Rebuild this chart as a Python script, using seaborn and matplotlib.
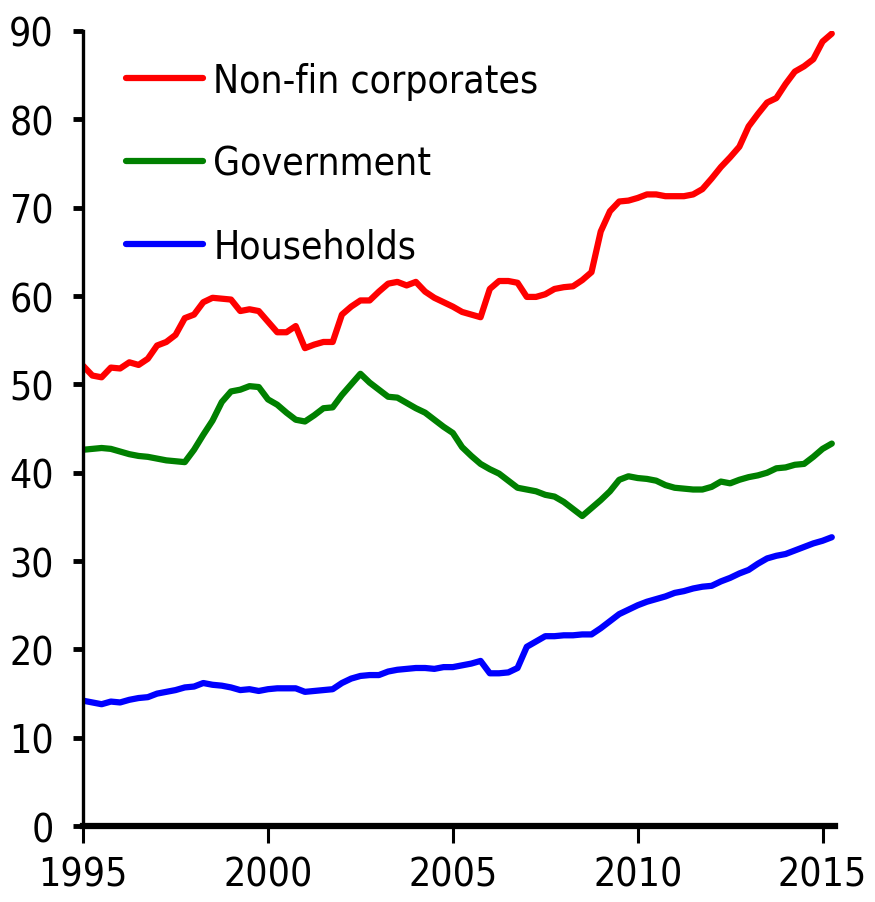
import numpy as np
import pandas as pd
import matplotlib
matplotlib.use('Agg')
import matplotlib.pyplot as plt
import seaborn as sns

# Quarterly series, 1995Q1 - 2015Q2
corporates = [52.1, 51.0, 50.8, 51.9, 51.8, 52.5, 52.2, 52.9, 54.4, 54.8,
              55.6, 57.5, 57.9, 59.3, 59.8, 59.7, 59.6, 58.3, 58.5, 58.3,
              57.1, 55.9, 55.9, 56.6, 54.1, 54.5, 54.8, 54.8, 57.9, 58.8,
              59.5, 59.5, 60.5, 61.4, 61.6, 61.2, 61.6, 60.5, 59.8, 59.3,
              58.8, 58.2, 57.9, 57.6, 60.8, 61.7, 61.7, 61.5, 59.9, 59.9,
              60.2, 60.8, 61.0, 61.1, 61.8, 62.7, 67.3, 69.6, 70.7, 70.8,
              71.1, 71.5, 71.5, 71.3, 71.3, 71.3, 71.5, 72.1, 73.3, 74.6,
              75.7, 76.9, 79.2, 80.6, 81.9, 82.4, 84.0, 85.4, 86.0, 86.8,
              88.8, 89.7]
government = [42.6, 42.7, 42.8, 42.7, 42.4, 42.1, 41.9, 41.8, 41.6, 41.4,
              41.3, 41.2, 42.6, 44.3, 45.9, 48.0, 49.2, 49.4, 49.8, 49.7,
              48.3, 47.7, 46.8, 46.0, 45.8, 46.5, 47.3, 47.4, 48.8, 50.0,
              51.2, 50.2, 49.4, 48.6, 48.5, 47.9, 47.3, 46.8, 46.0, 45.2,
              44.5, 42.9, 41.9, 41.0, 40.4, 39.9, 39.1, 38.3, 38.1, 37.9,
              37.5, 37.3, 36.7, 35.9, 35.1, 36.0, 36.9, 37.9, 39.2, 39.6,
              39.4, 39.3, 39.1, 38.6, 38.3, 38.2, 38.1, 38.1, 38.4, 39.0,
              38.8, 39.2, 39.5, 39.7, 40.0, 40.5, 40.6, 40.9, 41.0, 41.8,
              42.7, 43.3]
households = [14.2, 14.0, 13.8, 14.1, 14.0, 14.3, 14.5, 14.6, 15.0, 15.2,
              15.4, 15.7, 15.8, 16.2, 16.0, 15.9, 15.7, 15.4, 15.5, 15.3,
              15.5, 15.6, 15.6, 15.6, 15.2, 15.3, 15.4, 15.5, 16.2, 16.7,
              17.0, 17.1, 17.1, 17.5, 17.7, 17.8, 17.9, 17.9, 17.8, 18.0,
              18.0, 18.2, 18.4, 18.7, 17.3, 17.3, 17.4, 17.9, 20.3, 20.9,
              21.5, 21.5, 21.6, 21.6, 21.7, 21.7, 22.4, 23.2, 24.0, 24.5,
              25.0, 25.4, 25.7, 26.0, 26.4, 26.6, 26.9, 27.1, 27.2, 27.7,
              28.1, 28.6, 29.0, 29.7, 30.3, 30.6, 30.8, 31.2, 31.6, 32.0,
              32.3, 32.7]

series_names = ['Non-fin corporates', 'Government', 'Households']
colors = {'Non-fin corporates': '#ff0000', 'Government': '#008000', 'Households': '#0000ff'}
year_ticks = [1995, 2000, 2005, 2010, 2015]

# long form frame for seaborn
dates = 1995 + np.arange(len(corporates)) / 4
df = pd.DataFrame({'date': dates, 'Non-fin corporates': corporates,
                   'Government': government, 'Households': households})
long_df = df.melt(id_vars='date', value_vars=series_names, var_name='sector', value_name='value')

sns.set_style('white')
plt.rcParams['font.family'] = ['Liberation Sans Narrow', 'DejaVu Sans']
plt.rcParams['font.stretch'] = 'condensed'
plt.rcParams['text.color'] = 'black'
plt.rcParams['xtick.color'] = 'black'
plt.rcParams['ytick.color'] = 'black'

fig = plt.figure(figsize=(8.75, 9.03), dpi=100)
ax = fig.add_axes([0.095, 0.084, 0.859, 0.8806])

sns.lineplot(data=long_df, x='date', y='value', hue='sector', hue_order=series_names,
             palette=colors, linewidth=4.5, ax=ax, legend=False)

ax.set_xlim(1995, 2015.33)
ax.set_ylim(0, 90)
ax.set_xticks(year_ticks)
ax.set_yticks(range(0, 91, 10))
ax.set_xlabel('')
ax.set_ylabel('')

for side in ['top', 'right']:
    ax.spines[side].set_visible(False)
ax.spines['left'].set_linewidth(2.4)
ax.spines['bottom'].set_linewidth(4.5)
ax.spines['left'].set_color('black')
ax.spines['bottom'].set_color('black')

ax.tick_params(axis='y', direction='out', length=7, width=3.5, pad=14, labelsize=28, left=True)
ax.tick_params(axis='x', direction='out', length=12, width=2.2, pad=9, labelsize=28, bottom=True)

# legend
handles = [plt.Line2D([], [], color=colors[n], lw=4.5, solid_capstyle='round') for n in series_names]
ax.legend(handles, series_names, loc='upper left', bbox_to_anchor=(0.01, 1.005),
          frameon=False, fontsize=28, handlelength=2.0, handletextpad=0.25,
          labelspacing=1.15)

fig.savefig('out.png', dpi=100)
